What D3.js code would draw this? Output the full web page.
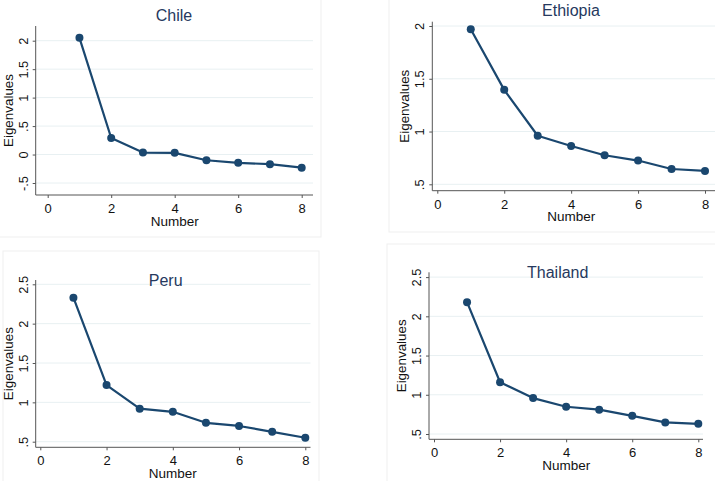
<!DOCTYPE html>
<html>
<head>
<meta charset="utf-8">
<script src="https://cdn.jsdelivr.net/npm/d3@7"></script>
<style>
  html, body { margin: 0; padding: 0; background: #ffffff; }
  svg { display: block; font-family: "Liberation Sans", Arial, sans-serif; }
</style>
</head>
<body>
<svg id="chart" width="715" height="481"></svg>
<script>
// ---- data ----
const numbers = [1, 2, 3, 4, 5, 6, 7, 8];
const chile    = [2.05, 0.29, 0.035, 0.03, -0.10, -0.145, -0.17, -0.23];
const ethiopia = [1.97, 1.395, 0.96, 0.863, 0.775, 0.725, 0.645, 0.627];
const peru     = [2.33, 1.22, 0.92, 0.88, 0.74, 0.70, 0.625, 0.55];
const thailand = [2.18, 1.16, 0.958, 0.847, 0.81, 0.732, 0.648, 0.63];
const xTicks = [0, 2, 4, 6, 8];
const yTicksChile = [-0.5, 0, 0.5, 1, 1.5, 2];
const yTicksOther = [0.5, 1, 1.5, 2];
const yTicksWide  = [0.5, 1, 1.5, 2, 2.5];
const titles = ["Chile", "Ethiopia", "Peru", "Thailand"];
const xTitle = "Number";
const yTitle = "Eigenvalues";

function fmt(v) {
  if (v === 0) return "0";
  let s = String(v);
  s = s.replace(/^0\./, ".").replace(/^-0\./, "-.");
  return s;
}

// ---- layout (pixels) ----
const panels = [
  { title: titles[0], values: chile, yTicks: yTicksChile,
    xr: [47.7, 301.7], yd: [-0.5, 2], yr: [183, 40.7],
    axX: 35.7, axTop: 26, axBot: 195, right: 313,
    titleX: 174, titleY: 20.7,
    frame: [-1, -1, 322, 238] },
  { title: titles[1], values: ethiopia, yTicks: yTicksOther,
    xr: [437.3, 705], yd: [0.5, 2], yr: [184.3, 26],
    axX: 432.3, axTop: 21.7, axBot: 190.7, right: 716,
    titleX: 571, titleY: 16,
    frame: [389, -1, 330, 233] },
  { title: titles[2], values: peru, yTicks: yTicksWide,
    xr: [40.3, 305.3], yd: [0.5, 2.5], yr: [441.7, 284.3],
    axX: 35.7, axTop: 280, axBot: 447.3, right: 310.5,
    titleX: 165.7, titleY: 285.7,
    frame: [3, 251, 316, 235] },
  { title: titles[3], values: thailand, yTicks: yTicksWide,
    xr: [434, 698.3], yd: [0.5, 2.5], yr: [434, 277.1],
    axX: 429, axTop: 272.3, axBot: 439.3, right: 703,
    titleX: 557.7, titleY: 277.7,
    frame: [387, 244, 330, 240] }
];

const svg = d3.select("#chart");
const lineColor = "#1a476f";
const gridColor = "#e8f0f2";
const axisColor = "#555555";
const textColor = "#111111";

panels.forEach(p => {
  const g = svg.append("g");
  // faint panel frame
  g.append("rect")
    .attr("x", p.frame[0]).attr("y", p.frame[1])
    .attr("width", p.frame[2]).attr("height", p.frame[3])
    .attr("fill", "none").attr("stroke", "#efefef").attr("stroke-width", 1);

  const x = d3.scaleLinear().domain([0, 8]).range(p.xr);
  const y = d3.scaleLinear().domain(p.yd).range(p.yr);

  // grid
  g.append("g").selectAll("line").data(p.yTicks).join("line")
    .attr("x1", p.axX).attr("x2", p.right)
    .attr("y1", d => y(d)).attr("y2", d => y(d))
    .attr("stroke", gridColor).attr("stroke-width", 1);

  // y axis
  const yAxis = d3.axisLeft(y).tickValues(p.yTicks).tickSize(3).tickFormat(fmt);
  const ya = g.append("g").attr("transform", `translate(${p.axX},0)`).call(yAxis);
  ya.select(".domain").remove();
  ya.selectAll(".tick line").attr("stroke", axisColor);
  ya.selectAll(".tick text")
    .attr("x", null).attr("dy", null)
    .attr("transform", "translate(-8.2,0) rotate(-90)")
    .attr("text-anchor", "middle")
    .attr("fill", textColor)
    .style("font-size", "12.8px")
    .style("font-family", "'Liberation Sans', Arial, sans-serif");
  g.append("line")
    .attr("x1", p.axX).attr("x2", p.axX)
    .attr("y1", p.axTop).attr("y2", p.axBot)
    .attr("stroke", axisColor).attr("stroke-width", 1);

  // x axis
  const xAxis = d3.axisBottom(x).tickValues(xTicks).tickSize(3).tickFormat(d3.format("d"));
  const xa = g.append("g").attr("transform", `translate(0,${p.axBot})`).call(xAxis);
  xa.select(".domain").remove();
  xa.selectAll(".tick line").attr("stroke", axisColor);
  xa.selectAll(".tick text")
    .attr("y", 18).attr("dy", null)
    .attr("fill", textColor)
    .style("font-size", "13px")
    .style("font-family", "'Liberation Sans', Arial, sans-serif");
  g.append("line")
    .attr("x1", p.axX).attr("x2", p.right)
    .attr("y1", p.axBot).attr("y2", p.axBot)
    .attr("stroke", axisColor).attr("stroke-width", 1);

  // axis titles
  g.append("text")
    .attr("x", (p.xr[0] + p.xr[1]) / 2).attr("y", p.axBot + 30.5)
    .attr("text-anchor", "middle").attr("fill", textColor)
    .style("font-size", "13.5px").text(xTitle);
  g.append("text")
    .attr("transform", `translate(${p.axX - 23},${(p.axTop + p.axBot) / 2}) rotate(-90)`)
    .attr("text-anchor", "middle").attr("fill", textColor)
    .style("font-size", "13.4px").text(yTitle);

  // title
  g.append("text")
    .attr("x", p.titleX).attr("y", p.titleY)
    .attr("text-anchor", "middle").attr("fill", "#26395e")
    .style("font-size", "16px").text(p.title);

  // line + markers
  const pts = numbers.map((n, i) => [n, p.values[i]]);
  g.append("path").datum(pts)
    .attr("fill", "none").attr("stroke", lineColor).attr("stroke-width", 2.2)
    .attr("stroke-linejoin", "round")
    .attr("d", d3.line().x(d => x(d[0])).y(d => y(d[1])));
  g.append("g").selectAll("circle").data(pts).join("circle")
    .attr("cx", d => x(d[0])).attr("cy", d => y(d[1])).attr("r", 4)
    .attr("fill", lineColor);
});
</script>
</body>
</html>
